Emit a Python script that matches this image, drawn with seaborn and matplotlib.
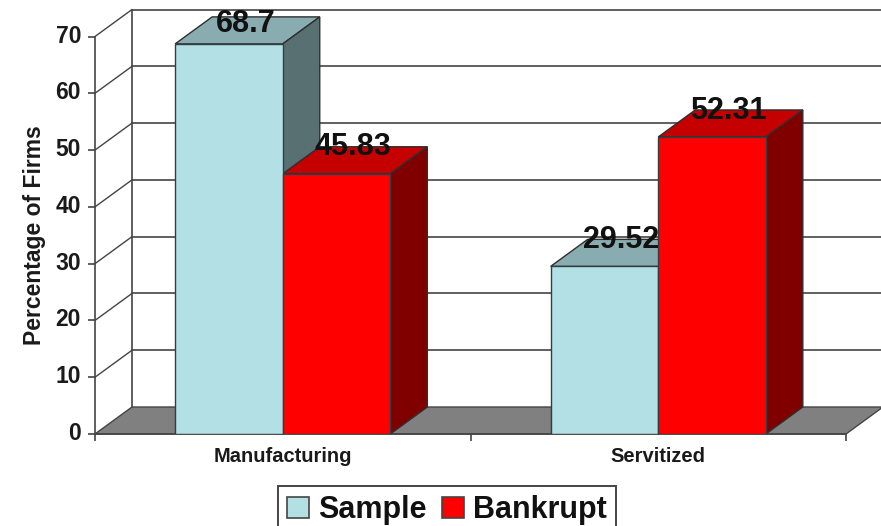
import pandas as pd
import matplotlib.pyplot as plt
import seaborn as sns
from matplotlib.patches import Polygon
from matplotlib.colors import to_rgb
from matplotlib.transforms import ScaledTranslation

categories = ["Manufacturing", "Servitized"]
series_names = ["Sample", "Bankrupt"]
sample_values = [68.7, 29.52]
bankrupt_values = [45.83, 52.31]
y_ticks = [0, 10, 20, 30, 40, 50, 60, 70]

df = pd.DataFrame({
    "Sector": categories * 2,
    "Group": [series_names[0]] * 2 + [series_names[1]] * 2,
    "Percentage": sample_values + bankrupt_values,
})

sns.set_theme(style="white")
plt.rcParams["font.family"] = ["Liberation Sans", "DejaVu Sans"]
plt.rcParams["font.weight"] = "bold"

W, H = 881, 526
line = "#444444"
colors = {"Sample": "#b2e0e4", "Bankrupt": "#ff0000"}

fig = plt.figure(figsize=(W / 100, H / 100), dpi=100)
ax = fig.add_axes([95 / W, (H - 434) / H, 751 / W, 397.5 / H])

sns.barplot(data=df, x="Sector", y="Percentage", hue="Group", order=categories,
            hue_order=series_names, palette=colors, saturation=1, width=0.573, gap=0,
            edgecolor="#2f3f44", linewidth=1.0, ax=ax, legend=False)
bars = [b for b in ax.patches]
ax.set_xlim(-0.5, 1.5)
ax.set_ylim(0, 70)

# depth of the fake 3d box, in data units
dx = 37 / 375.5
dy = 27 / (397.5 / 70)


def shade(c, k):
    r, g, b = to_rgb(c)
    return (r * k, g * k, b * k)


# floor
ax.add_patch(Polygon([(-0.5, 0), (-0.5 + dx, dy), (1.5 + dx, dy), (1.5, 0)],
                     closed=True, fc="#808080", ec=line, lw=1.0, clip_on=False, zorder=1))

# walls and grid lines
for t in y_ticks:
    if t > 0:
        ax.plot([-0.5, -0.5 + dx], [t, t + dy], color=line, lw=1.0, clip_on=False, zorder=2)
        ax.plot([-0.5 + dx, 1.5 + dx], [t + dy, t + dy], color=line, lw=1.2, clip_on=False, zorder=2)
ax.plot([-0.5 + dx, -0.5 + dx], [dy, 70 + dy], color=line, lw=1.2, clip_on=False, zorder=2)

# top and side of every bar, left bars first so the right ones cover them
for bar in sorted(bars, key=lambda b: b.get_x()):
    x0 = bar.get_x()
    x1 = x0 + bar.get_width()
    h = bar.get_height()
    c = bar.get_facecolor()
    z = 3 + x0 + 1
    ax.add_patch(Polygon([(x0, h), (x0 + dx, h + dy), (x1 + dx, h + dy), (x1, h)],
                         closed=True, fc=shade(c, 0.77), ec="#2f2f2f", lw=1.0,
                         clip_on=False, zorder=z))
    ax.add_patch(Polygon([(x1, 0), (x1 + dx, dy), (x1 + dx, h + dy), (x1, h)],
                         closed=True, fc=shade(c, 0.5), ec="#2f2f2f", lw=1.0,
                         clip_on=False, zorder=z))
    # labels sit on the back edge of the top, the tallest one is held inside the picture
    ax.text(x0 + bar.get_width() / 2 + dx * 0.45, min(h + dy - 0.1, 72.2), f"{h:g}", ha="center", va="center",
            fontsize=22, fontweight="bold", color="#111111", zorder=9, clip_on=False)
    bar.set_zorder(7)

for side in ["top", "right"]:
    ax.spines[side].set_visible(False)
for side in ["left", "bottom"]:
    ax.spines[side].set_color(line)
    ax.spines[side].set_linewidth(1.2)
    ax.spines[side].set_zorder(6)

ax.set_yticks(y_ticks)
ax.tick_params(axis="y", left=True, length=5, width=1.2, color=line, pad=5, labelsize=16.5, labelcolor="#1a1a1a")
ax.set_xticks([-0.5, 0.5, 1.5])
ax.set_xticks([0, 1], labels=categories, minor=True)
ax.tick_params(axis="x", which="major", bottom=True, length=5, width=1.2, color=line, labelbottom=False)
ax.tick_params(axis="x", which="minor", bottom=False, length=0, pad=9, labelsize=14.5, labelcolor="#1a1a1a")
ax.set_xlabel("")
ax.set_ylabel("Percentage of Firms", fontsize=16.5, fontweight="bold", color="#1a1a1a")
ax.yaxis.set_label_coords((46 - 95) / 751, (434 - 235) / 397.5)

up = ScaledTranslation(0, 3 / 100, fig.dpi_scale_trans)
for lab in ax.get_yticklabels():
    lab.set_transform(lab.get_transform() + up)

handles = [plt.Rectangle((0, 0), 1, 1, fc=colors[n], ec=line, lw=1.2) for n in series_names]
leg = fig.legend(handles, series_names, loc="upper left", bbox_to_anchor=(278 / W, (H - 486) / H),
                 bbox_transform=fig.transFigure, ncol=2, fontsize=22, frameon=True, fancybox=False,
                 edgecolor=line, framealpha=1, borderaxespad=0, borderpad=0.3, handlelength=0.72, handleheight=0.72,
                 handletextpad=0.3, columnspacing=0.5, labelcolor="#111111")
leg.get_frame().set_linewidth(1.4)

fig.savefig("out.png", dpi=100)
